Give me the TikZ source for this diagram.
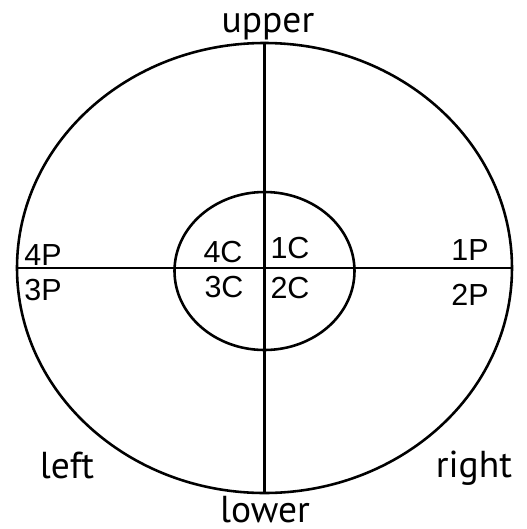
\documentclass[tikz,border=0pt]{standalone}
\usepackage{fontspec}
\usepackage{tikz}
\usetikzlibrary{shapes.geometric,positioning}
\newfontfamily\sidefont{PT Sans}
\newfontfamily\codefont{Liberation Sans}

\begin{document}
\begin{tikzpicture}[
    x=0.3mm, y=-0.3mm,
    ring/.style={ellipse, draw=black, line width=2.2pt, inner sep=0pt},
    axis/.style={draw=black, line width=2.2pt},
    side/.style={font=\sidefont\fontsize{32}{32}\selectfont, anchor=base, inner sep=0pt},
    code/.style={font=\codefont\fontsize{26}{26}\selectfont, anchor=base, inner sep=0pt}
]
    \useasboundingbox (0,0) rectangle (527,529);

    \node [ring, minimum width=148.5mm, minimum height=135mm] (outer) at (264.5,268) {};
    \node [ring, minimum width=54mm, minimum height=47.4mm] (inner) at (264.5,271) {};

    \draw [axis] (outer.west) -- (outer.east);
    \draw [axis] (outer.north) -- (outer.south);

    \node [side] (upper) at (268,32) {upper};
    \node [side] (lower) at (265,522) {lower};
    \node [side] (left) at (67,478) {left};
    \node [side] (right) at (474,477) {right};

    \node [code] (p4) at (43,265) {4P};
    \node [code] (p3) at (43,300) {3P};
    \node [code] (p1) at (470,260) {1P};
    \node [code] (p2) at (470,305) {2P};

    \node [code] (c4) at (223,262) {4C};
    \node [code] (c1) at (290,258) {1C};
    \node [code] (c3) at (224,297) {3C};
    \node [code] (c2) at (290,298) {2C};
\end{tikzpicture}
\end{document}
